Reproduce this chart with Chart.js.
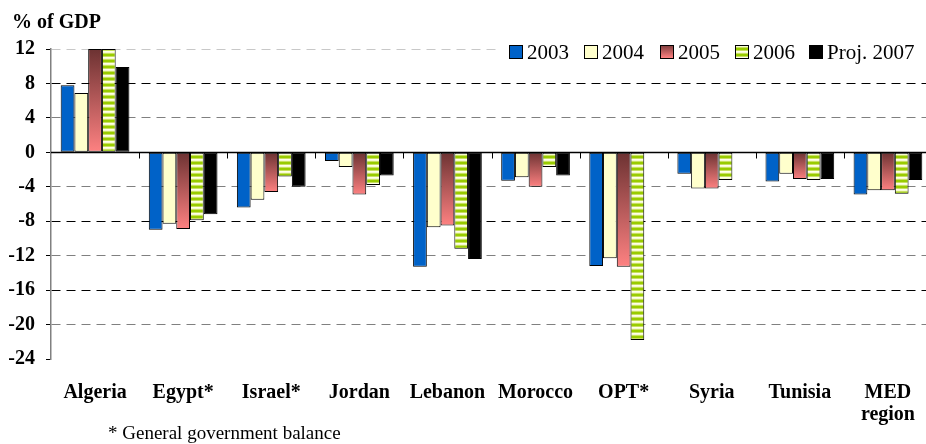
<!DOCTYPE html>
<html>
<head>
<meta charset="utf-8">
<script src="https://cdn.jsdelivr.net/npm/chart.js@4/dist/chart.umd.min.js"></script>
<style>
  html, body { margin: 0; padding: 0; background: #fff; overflow: hidden; }
  #wrap { width: 932px; height: 444px; }
</style>
</head>
<body>
<div id="wrap"><canvas id="c" width="932" height="444"></canvas></div>
<script>
// Budget balance by country, % of GDP
const categories = [['Algeria'], ['Egypt*'], ['Israel*'], ['Jordan'], ['Lebanon'], ['Morocco'], ['OPT*'], ['Syria'], ['Tunisia'], ['MED', 'region']];
const years = ['2003', '2004', '2005', '2006', 'Proj. 2007'];
const bal2003 = [7.8, -9.0, -6.4, -1.0, -13.3, -3.3, -13.2, -2.5, -3.4, -4.9];
const bal2004 = [6.9, -8.3, -5.5, -1.7, -8.7, -2.9, -12.3, -4.2, -2.5, -4.4];
const bal2005 = [12.0, -8.9, -4.6, -4.9, -8.5, -4.0, -13.3, -4.2, -3.1, -4.4];
const bal2006 = [12.0, -7.9, -2.8, -3.8, -11.2, -1.7, -21.8, -3.2, -3.2, -4.8];
const bal2007 = [9.9, -7.2, -4.0, -2.7, -12.4, -2.7, null, null, -3.1, -3.2];
const yTicks = [12, 8, 4, 0, -4, -8, -12, -16, -20, -24];
const footnote = '* General government balance';
const unitLabel = '% of GDP';

const SERIF = '"Liberation Serif", "Times New Roman", serif';

// striped fill for the 2006 series
function makeStripes() {
  const c = document.createElement('canvas');
  c.width = 4; c.height = 6;
  const g = c.getContext('2d');
  const rows = ['#99cc00', '#99cc00', '#c8e060', '#ffffe8', '#f6fbd0', '#c8e060'];
  rows.forEach((col, i) => { g.fillStyle = col; g.fillRect(0, i, 4, 1); });
  return document.getElementById('c').getContext('2d').createPattern(c, 'repeat');
}
const stripes = makeStripes();

// dark-to-light vertical shading for the 2005 series
function redShade(ctx) {
  const chart = ctx.chart;
  if (!chart.chartArea || ctx.type !== 'data' || ctx.raw == null) return '#b05050';
  const y = chart.scales.y;
  const a = y.getPixelForValue(ctx.raw), b = y.getPixelForValue(0);
  const top = Math.min(a, b), bot = Math.max(a, b) + 0.5;
  const g = chart.ctx.createLinearGradient(0, top, 0, bot);
  g.addColorStop(0, '#6c3232');
  g.addColorStop(1, '#ff8282');
  return g;
}

const fills = ['#0062c8', '#ffffcc', redShade, stripes, '#000000'];
const series = [bal2003, bal2004, bal2005, bal2006, bal2007];

const gridColor = v => {
  if (v === 0 || v === -24) return 'rgba(0,0,0,0)';
  if (v === 12) return '#c8c8c8';
  return (v % 8 === 0) ? '#000000' : '#808080';
};

// zero line with category separators, header text, legend and footnote
const decorations = {
  id: 'decorations',
  afterDatasetsDraw(chart) {
    const { ctx, chartArea, scales } = chart;
    const y0 = Math.round(scales.y.getPixelForValue(0)) + 0.5;
    const n = categories.length;
    const w = (chartArea.right - chartArea.left) / n;
    ctx.save();
    ctx.strokeStyle = '#000';
    ctx.lineWidth = 1.5;
    ctx.beginPath();
    ctx.moveTo(chartArea.left, y0);
    ctx.lineTo(chartArea.right, y0);
    ctx.stroke();
    ctx.lineWidth = 1;
    for (let i = 1; i < n; i++) {
      const x = Math.round(chartArea.left + i * w) + 0.5;
      ctx.beginPath();
      ctx.moveTo(x, y0);
      ctx.lineTo(x, y0 + 6);
      ctx.stroke();
    }
    ctx.restore();
  },
  afterDraw(chart) {
    const { ctx } = chart;
    ctx.save();
    // unit label
    ctx.fillStyle = '#000';
    ctx.font = 'bold 20px ' + SERIF;
    ctx.textBaseline = 'alphabetic';
    ctx.textAlign = 'left';
    ctx.fillText(unitLabel, 12, 28);

    // legend
    ctx.fillStyle = '#fff';
    ctx.fillRect(500, 41, 432, 22);
    const boxX = [509, 584, 660, 735, 809];
    ctx.font = '21px ' + SERIF;
    years.forEach((yr, i) => {
      const bx = boxX[i], by = 45, s = 13;
      let f = fills[i];
      if (i === 2) {
        const g = ctx.createLinearGradient(0, by, 0, by + s);
        g.addColorStop(0, '#7a3a3a');
        g.addColorStop(1, '#ff8282');
        f = g;
      }
      ctx.fillStyle = f;
      ctx.fillRect(bx, by, s, s);
      ctx.strokeStyle = '#000';
      ctx.lineWidth = 1;
      ctx.strokeRect(bx + 0.5, by + 0.5, s, s);
      ctx.fillStyle = '#000';
      ctx.fillText(yr, bx + 18, 59);
    });

    // footnote
    ctx.font = '19px ' + SERIF;
    ctx.fillText(footnote, 108, 439);
    ctx.restore();
  }
};

new Chart(document.getElementById('c'), {
  type: 'bar',
  data: {
    labels: categories,
    datasets: series.map((vals, i) => ({
      label: years[i],
      data: vals,
      backgroundColor: fills[i],
      borderColor: '#000',
      borderWidth: 1,
      borderSkipped: false,
      barPercentage: 1.0,
      categoryPercentage: 0.78
    }))
  },
  options: {
    responsive: false,
    animation: false,
    layout: { padding: { top: 49, right: 0, bottom: 0, left: 0 } },
    plugins: {
      legend: { display: false },
      tooltip: { enabled: false }
    },
    scales: {
      x: {
        type: 'category',
        position: 'bottom',
        grid: { display: false },
        border: { display: false },
        ticks: {
          color: '#000',
          padding: 15,
          maxRotation: 0,
          autoSkip: false,
          font: { family: SERIF, size: 20, weight: 'bold', lineHeight: 1.08 }
        },
        afterFit(scale) { scale.height = 85; }
      },
      y: {
        min: -24,
        max: 12,
        afterBuildTicks(scale) { scale.ticks = yTicks.map(v => ({ value: v })); },
        grid: {
          color: ctx => gridColor(ctx.tick ? ctx.tick.value : null),
          lineWidth: 1,
          tickColor: '#000',
          tickLength: 5,
          drawTicks: true
        },
        border: {
          display: true,
          color: '#808080',
          width: 1.5,
          dash: [9, 6]
        },
        ticks: {
          color: '#000',
          padding: 11,
          font: { family: SERIF, size: 20, weight: 'bold' }
        },
        afterFit(scale) { scale.width = 51; }
      }
    }
  },
  plugins: [decorations]
});
</script>
</body>
</html>
